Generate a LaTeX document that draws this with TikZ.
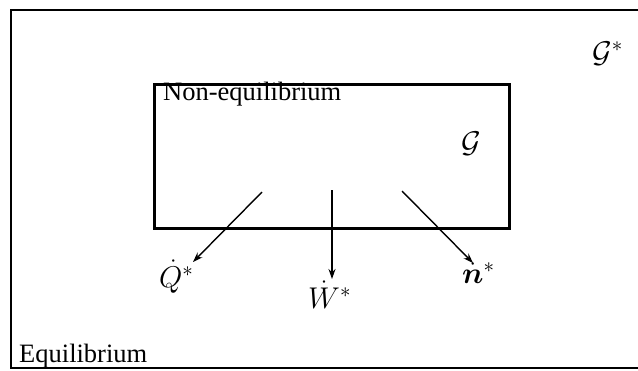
\RequirePackage{fix-cm}
\documentclass[tikz,border=0pt]{standalone}
\usepackage{fontspec}
\setmainfont{Liberation Serif}
\usepackage{amsmath}
\usepackage{bm}
\usetikzlibrary{arrows.meta}
\tikzset{
  frameline/.style={line width=2.4pt},
  boxline/.style={line width=3pt},
  flow/.style={line width=1.4pt,-{Stealth[length=10pt,width=7pt]}},
  txt/.style={inner sep=0pt,anchor=base west,font=\fontsize{26.5}{30}\selectfont},
  sym/.style={inner sep=0pt,anchor=base west,font=\fontsize{30}{36}\selectfont},
}
\begin{document}
\begin{tikzpicture}[x=1pt,y=-1pt]
\useasboundingbox (0,0) rectangle (638,370);
\fill[white] (0,0) rectangle (638,370);
% outer frame (right side runs off the picture)
\draw[frameline] (645,10) -- (11,10) -- (11,368) -- (645,368);
% inner box
\node[draw,boxline,minimum width=355pt,minimum height=144pt,inner sep=0pt,anchor=north west] (sys) at (153,83) {};
\node[txt] (neq) at (163,100) {Non-equilibrium};
\node[txt] (eq) at (19,362) {Equilibrium};
\node[sym] (g) at (461,152) {$\mathcal{G}$};
\node[sym] (gs) at (592,62) {$\mathcal{G}^*$};
\node[sym] (q) at (159,287) {$\dot{Q}^*$};
\node[sym] (w) at (308,308) {$\dot{W}^*$};
\node[sym] (n) at (462,283) {$\dot{\bm{n}}^*$};
% arrows
\coordinate (qs) at (262,192);
\coordinate (qe) at (193,262);
\coordinate (ws) at (332,190);
\coordinate (we) at (332,279);
\coordinate (ns) at (402,191);
\coordinate (ne) at (473,263);
\draw[flow] (qs) -- (qe);
\draw[flow] (ws) -- (we);
\draw[flow] (ns) -- (ne);
\end{tikzpicture}
\end{document}
